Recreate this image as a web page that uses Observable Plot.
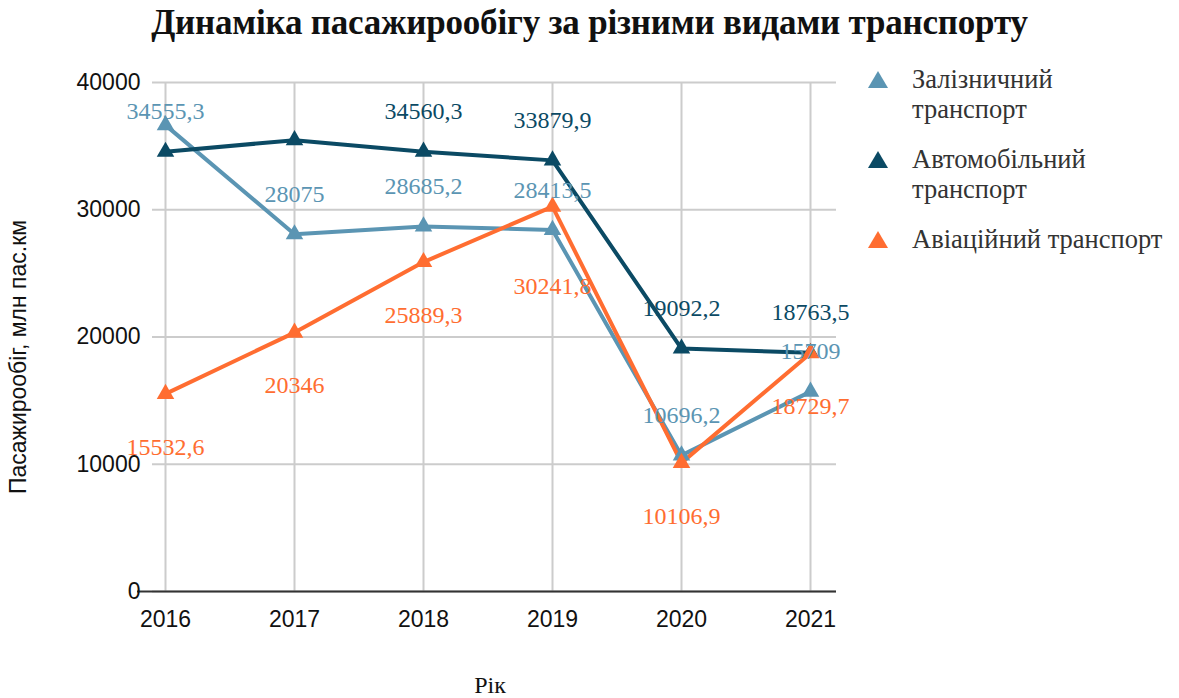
<!DOCTYPE html>
<html>
<head>
<meta charset="utf-8">
<script src="https://cdn.jsdelivr.net/npm/d3@7"></script>
<script src="https://cdn.jsdelivr.net/npm/@observablehq/plot@0.6"></script>
<style>
  html, body { margin: 0; padding: 0; background: #fff; }
  #wrap { position: relative; width: 1179px; height: 698px; overflow: hidden; }
  #title { height: 50px; line-height: 46px; text-align: center; font-family: "Liberation Serif", serif; font-weight: bold; font-size: 35px; color: #111; letter-spacing: -0.2px; }
  #ytitle { position: absolute; left: 18px; top: 357px; transform: translate(-50%, -50%) rotate(-90deg); white-space: nowrap; font-family: "Liberation Sans", Arial, sans-serif; font-size: 23px; color: #111; }
  #xtitle { position: absolute; left: 490px; top: 685px; transform: translate(-50%, -50%); font-family: "Liberation Serif", serif; font-size: 24px; color: #111; }
  #legend { position: absolute; left: 868px; top: 64px; font-family: "Liberation Serif", serif; font-size: 26.5px; color: #333; line-height: 30px; }
  .li { position: relative; padding-left: 44px; margin-bottom: 20px; }
  .tri { position: absolute; left: 0; top: 7px; width: 0; height: 0; border-left: 10px solid transparent; border-right: 10px solid transparent; border-bottom: 17px solid; }
</style>
</head>
<body>
<div id="wrap">
  <div id="title">Динаміка пасажирообігу за різними видами транспорту</div>
  <div id="chart"></div>
  <div id="ytitle">Пасажирообіг, млн пас.км</div>
  <div id="xtitle">Рік</div>
  <div id="legend"></div>
</div>
<script>
const years = [2016, 2017, 2018, 2019, 2020, 2021];
const seriesNames = ["Залізничний транспорт", "Автомобільний транспорт", "Авіаційний транспорт"];
const legendLines = [["Залізничний", "транспорт"], ["Автомобільний", "транспорт"], ["Авіаційний транспорт"]];
const colors = ["#5b95b3", "#0b4a64", "#ff6d31"];
const railValues = [36650, 28075, 28685.2, 28413.5, 10696.2, 15709];
const autoValues = [34555.3, 35470, 34560.3, 33879.9, 19092.2, 18763.5];
const aviaValues = [15532.6, 20346, 25889.3, 30241.8, 10106.9, 18729.7];
const railLabels = ["34555,3", "28075", "28685,2", "28413,5", "10696,2", "15709"];
const autoLabels = ["", "", "34560,3", "33879,9", "19092,2", "18763,5"];
const aviaLabels = ["15532,6", "20346", "25889,3", "30241,8", "10106,9", "18729,7"];
const yTicks = [0, 10000, 20000, 30000, 40000];

const allValues = [railValues, autoValues, aviaValues];
const allLabels = [railLabels, autoLabels, aviaLabels];

const rows = [];
const labelRows = [];
allValues.forEach((vals, si) => {
  vals.forEach((v, i) => {
    rows.push({series: seriesNames[si], si, year: years[i], value: v});
    const lab = allLabels[si][i];
    if (lab) {
      // label placement: above for rail/auto, below for avia; the avia 2019 label is pushed lower to avoid a collision
      const shifted = si === 2 && years[i] === 2019;
      labelRows.push({si, shifted, year: years[i], text: lab, lv: parseFloat(lab.replace(",", "."))});
    }
  });
});

const labelMarks = [];
[0, 1, 2].forEach(si => {
  [false, true].forEach(shifted => {
    const data = labelRows.filter(r => r.si === si && r.shifted === shifted);
    if (!data.length) return;
    labelMarks.push(Plot.text(data, {
      x: "year", y: "lv", text: "text", fill: colors[si], fontSize: 24,
      fontFamily: "Liberation Serif, serif",
      dy: si === 2 ? (shifted ? 80 : 53) : -40
    }));
  });
});

const plot = Plot.plot({
  width: 1179,
  height: 648,
  marginTop: 32,
  marginBottom: 107,
  marginLeft: 152,
  marginRight: 343,
  style: {fontFamily: "Liberation Sans, Arial, sans-serif", background: "transparent"},
  x: {domain: [2016, 2021], insetLeft: 13, insetRight: 26},
  y: {domain: [0, 40000]},
  marks: [
    Plot.gridY(yTicks, {stroke: "#cccccc", strokeOpacity: 1, strokeWidth: 2}),
    Plot.gridX(years, {stroke: "#cccccc", strokeOpacity: 1, strokeWidth: 2}),
    Plot.ruleY([0], {stroke: "#333333", strokeWidth: 2, insetLeft: -15}),
    Plot.axisY(yTicks, {tickSize: 0, tickPadding: 12, fontSize: 23, fill: "#111", tickFormat: d => String(d), label: null}),
    Plot.axisX(years, {tickSize: 0, tickPadding: 19, fontSize: 23, fill: "#111", tickFormat: d => String(d), label: null}),
    ...[0, 1, 2].map(si => Plot.line(rows.filter(r => r.si === si), {x: "year", y: "value", stroke: colors[si], strokeWidth: 4})),
    ...[0, 1, 2].map(si => Plot.dot(rows.filter(r => r.si === si), {x: "year", y: "value", symbol: "triangle", r: 6.5, fill: colors[si], stroke: "none"})),
    ...labelMarks
  ]
});
document.getElementById("chart").appendChild(plot);

const legend = document.getElementById("legend");
legendLines.forEach((lines, i) => {
  const li = document.createElement("div");
  li.className = "li";
  li.innerHTML = `<span class="tri" style="border-bottom-color:${colors[i]}"></span>` + lines.join("<br>");
  legend.appendChild(li);
});
</script>
</body>
</html>
